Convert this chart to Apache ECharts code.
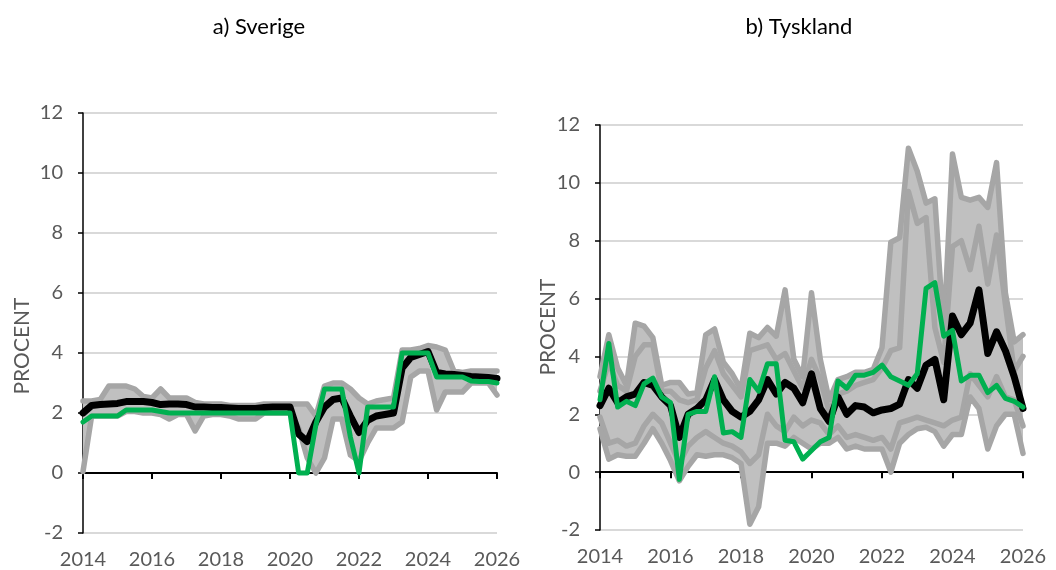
<!DOCTYPE html>
<html>
<head>
<meta charset="utf-8">
<title>Sverige och Tyskland</title>
<script src="https://cdn.jsdelivr.net/npm/echarts@6/dist/echarts.min.js"></script>
<style>
  html, body { margin: 0; padding: 0; background: #fff; }
  #chart { width: 1056px; height: 570px; }
</style>
</head>
<body>
<div id="chart"></div>
<script>
// kvartal 2014K1 - 2026K1
const quarters = [
  '2014K1', '2014K2', '2014K3', '2014K4', '2015K1', '2015K2', '2015K3', '2015K4',
  '2016K1', '2016K2', '2016K3', '2016K4', '2017K1', '2017K2', '2017K3', '2017K4',
  '2018K1', '2018K2', '2018K3', '2018K4', '2019K1', '2019K2', '2019K3', '2019K4',
  '2020K1', '2020K2', '2020K3', '2020K4', '2021K1', '2021K2', '2021K3', '2021K4',
  '2022K1', '2022K2', '2022K3', '2022K4', '2023K1', '2023K2', '2023K3', '2023K4',
  '2024K1', '2024K2', '2024K3', '2024K4', '2025K1', '2025K2', '2025K3', '2025K4',
  '2026K1',
];
const yTicks = [-2, 0, 2, 4, 6, 8, 10, 12];

// a) Sverige
const seBlack = [
  2.0, 2.25, 2.28, 2.3, 2.32, 2.38, 2.38, 2.38,
  2.35, 2.28, 2.3, 2.3, 2.28, 2.2, 2.2, 2.18,
  2.18, 2.17, 2.15, 2.15, 2.15, 2.18, 2.2, 2.2,
  2.2, 1.3, 1.05, 1.7, 2.2, 2.45, 2.5, 1.9,
  1.35, 1.75, 1.9, 1.95, 2.0, 3.5, 3.85, 3.95,
  4.05, 3.35, 3.3, 3.28, 3.25, 3.22, 3.2, 3.18,
  3.15,
];
const seGreen = [
  1.7, 1.9, 1.9, 1.9, 1.9, 2.1, 2.1, 2.1,
  2.1, 2.05, 2.0, 2.0, 2.0, 2.0, 2.0, 2.0,
  2.0, 2.0, 2.0, 2.0, 2.0, 2.0, 2.0, 2.0,
  2.0, 0.0, 0.0, 1.6, 2.8, 2.8, 2.8, 1.2,
  0.0, 2.2, 2.2, 2.2, 2.2, 4.0, 4.0, 4.0,
  4.0, 3.2, 3.2, 3.2, 3.2, 3.07, 3.05, 3.05,
  3.0,
];
const seHigh = [
  2.4, 2.4, 2.45, 2.9, 2.9, 2.9, 2.8, 2.55,
  2.5, 2.8, 2.5, 2.5, 2.5, 2.35, 2.3, 2.3,
  2.3, 2.25, 2.25, 2.25, 2.25, 2.3, 2.3, 2.3,
  2.3, 2.3, 2.3, 1.9, 2.9, 3.0, 3.0, 2.8,
  2.5, 2.3, 2.4, 2.45, 2.5, 4.1, 4.1, 4.15,
  4.25, 4.2, 4.1, 3.4, 3.35, 3.4, 3.4, 3.4,
  3.4,
];
const seLow = [
  0.05, 1.9, 1.9, 1.9, 1.9, 2.05, 2.05, 2.0,
  2.0, 1.95, 1.8, 1.95, 1.95, 1.4, 1.9, 1.95,
  1.95, 1.9, 1.8, 1.8, 1.8, 2.0, 2.0, 2.0,
  2.0, 1.5, 0.5, 0.0, 0.5, 1.8, 1.8, 0.6,
  0.4, 1.0, 1.5, 1.5, 1.5, 1.7, 3.2, 3.4,
  3.4, 2.1, 2.7, 2.7, 2.7, 3.0, 3.0, 3.0,
  2.6,
];

// b) Tyskland
const deBlack = [
  2.3, 2.9, 2.4, 2.6, 2.7, 3.1, 3.0, 2.6,
  2.3, 1.2, 2.0, 2.2, 2.5, 3.2, 2.5, 2.1,
  1.9, 2.1, 2.5, 3.2, 2.7, 3.1, 2.9, 2.4,
  3.4, 2.2, 1.75, 2.6, 2.0, 2.3, 2.25, 2.05,
  2.15, 2.2, 2.35, 3.2, 2.9, 3.7, 3.9, 2.5,
  5.4, 4.75, 5.15, 6.3, 4.1, 4.85, 4.2, 3.3,
  2.2,
];
const deGreen = [
  2.5, 4.45, 2.25, 2.45, 2.3, 3.05, 3.25, 2.6,
  2.4, -0.25, 2.0, 2.1, 2.1, 3.3, 1.35, 1.4,
  1.2, 3.2, 2.8, 3.75, 3.75, 1.1, 1.05, 0.45,
  0.75, 1.05, 1.2, 3.15, 2.9, 3.35, 3.35, 3.45,
  3.7, 3.3, 3.15, 3.0, 3.4, 6.35, 6.55, 4.7,
  4.9, 3.15, 3.35, 3.35, 2.75, 3.0, 2.55, 2.45,
  2.25,
];
const deHigh = [
  3.3, 4.75, 3.6, 3.0, 5.15, 5.05, 4.65, 3.0,
  3.1, 3.1, 2.7, 2.75, 4.75, 4.95, 3.8, 3.4,
  2.85, 4.8, 4.65, 5.0, 4.7, 6.3, 3.9, 3.3,
  6.2, 3.9, 2.5, 3.2, 3.3, 3.45, 3.45, 3.55,
  4.3, 7.95, 8.1, 11.2, 10.4, 9.3, 9.45, 4.8,
  11.0, 9.5, 9.4, 9.5, 9.15, 10.7, 6.2, 4.5,
  4.75,
];
const deHigh2 = [
  2.8, 3.8, 3.0, 2.8, 4.0, 4.4, 4.4, 2.8,
  2.8, 2.5, 2.4, 2.5, 3.6, 4.2, 3.4, 3.0,
  2.6, 4.2, 4.3, 4.4, 3.9, 4.1, 3.5, 2.9,
  3.9, 3.2, 2.1, 2.7, 2.8, 3.0, 3.1, 3.2,
  3.6, 4.2, 4.3, 9.7, 8.6, 8.8, 5.0, 3.8,
  7.8, 8.0, 7.0, 8.5, 6.5, 8.2, 5.8, 3.5,
  4.0,
];
const deLow2 = [
  1.9, 1.0, 1.1, 0.9, 1.0, 1.6, 2.0, 1.7,
  1.0, 0.3, 0.9, 1.2, 1.4, 1.2, 1.0, 0.9,
  0.7, 0.3, 0.6, 2.0, 1.6, 1.4, 1.9, 1.6,
  1.8, 1.7, 1.3, 1.6, 1.2, 1.3, 1.2, 1.1,
  1.2, 0.8, 1.7, 1.8, 1.9, 1.8, 1.7, 1.6,
  1.8, 1.9, 3.4, 3.0, 2.6, 3.3, 2.6, 2.5,
  1.6,
];
const deLow = [
  1.5, 0.45, 0.6, 0.55, 0.55, 1.0, 1.5, 1.0,
  0.4, -0.3, 0.2, 0.6, 0.55, 0.6, 0.6, 0.5,
  0.3, -1.8, -1.2, 1.0, 1.0, 0.9, 1.2, 1.0,
  0.8, 1.0, 1.0, 1.2, 0.8, 0.9, 0.8, 0.8,
  0.8, 0.0, 1.0, 1.3, 1.5, 1.55, 1.4, 0.9,
  1.3, 1.3, 2.6, 2.2, 0.8, 1.6, 2.0, 2.0,
  0.65,
];

const GREY_LINE = '#a6a6a6';
const GREY_FILL = '#c0c0c0';
const LABEL = '#595959';
const FONT = 'Lato, "Open Sans", sans-serif';
const everyOther = (i) => i % 8 === 0; // ett märke vartannat år

const chart = echarts.init(document.getElementById('chart'));

// x-axel längst ned: bara årtal
function labelAxis(gridIndex) {
  return {
    type: 'category',
    gridIndex: gridIndex,
    position: 'bottom',
    data: quarters,
    boundaryGap: false,
    axisLine: { show: false, onZero: false },
    axisTick: { show: false },
    axisLabel: {
      interval: everyOther,
      formatter: (v) => v.slice(0, 4),
      margin: 19,
      lineHeight: 16,
      color: LABEL,
      fontSize: 20,
      fontFamily: FONT,
    },
    splitLine: { show: false },
  };
}

// x-axel vid noll: linje och streck nedåt
function zeroAxis(gridIndex) {
  return {
    type: 'category',
    gridIndex: gridIndex,
    position: 'top',
    data: quarters,
    boundaryGap: false,
    axisLine: { show: true, onZero: true, lineStyle: { color: '#000', width: 2 } },
    axisTick: { show: true, inside: true, length: 6, interval: everyOther, lineStyle: { color: '#000', width: 2 } },
    axisLabel: { show: false },
    splitLine: { show: false },
  };
}

function makeYAxis(gridIndex) {
  return {
    type: 'value',
    gridIndex: gridIndex,
    min: yTicks[0],
    max: yTicks[yTicks.length - 1],
    interval: 2,
    axisLine: { show: true, onZero: false, lineStyle: { color: '#000', width: 1.5 } },
    axisTick: { show: true, length: 5, lineStyle: { color: '#000', width: 1.5 } },
    axisLabel: { margin: 20, color: LABEL, fontSize: 20, fontFamily: FONT },
    splitLine: { show: true, lineStyle: { color: '#d9d9d9', width: 2 } },
  };
}

// grått band mellan lägsta och högsta, byggt med stack
function bandSeries(xIdx, yIdx, low, high) {
  return [
    {
      type: 'line',
      xAxisIndex: xIdx,
      yAxisIndex: yIdx,
      stack: 'band' + yIdx,
      stackStrategy: 'all',
      data: low,
      symbol: 'none',
      lineStyle: { opacity: 0 },
      silent: true,
    },
    {
      type: 'line',
      xAxisIndex: xIdx,
      yAxisIndex: yIdx,
      stack: 'band' + yIdx,
      stackStrategy: 'all',
      data: low.map((v, i) => +(high[i] - v).toFixed(3)),
      symbol: 'none',
      lineStyle: { opacity: 0 },
      areaStyle: { color: GREY_FILL, opacity: 1 },
      silent: true,
    },
  ];
}

function lineSeries(xIdx, yIdx, data, color, width) {
  return {
    type: 'line',
    xAxisIndex: xIdx,
    yAxisIndex: yIdx,
    data: data,
    symbol: 'none',
    lineStyle: { color: color, width: width, join: 'round', cap: 'round' },
    silent: true,
  };
}

const option = {
  animation: false,
  backgroundColor: '#fff',
  grid: [
    { left: 83, top: 113, width: 414, height: 420 },
    { left: 600, top: 125, width: 423, height: 405 },
  ],
  xAxis: [labelAxis(0), zeroAxis(0), labelAxis(1), zeroAxis(1)],
  yAxis: [makeYAxis(0), makeYAxis(1)],
  graphic: [
    {
      type: 'text', x: 259, y: 27,
      style: { text: 'a) Sverige', fill: '#000', fontSize: 22, fontFamily: FONT, align: 'center', verticalAlign: 'middle' },
    },
    {
      type: 'text', x: 799, y: 27,
      style: { text: 'b) Tyskland', fill: '#000', fontSize: 22, fontFamily: FONT, align: 'center', verticalAlign: 'middle' },
    },
    {
      type: 'text', x: 22, y: 346, rotation: Math.PI / 2,
      style: { text: 'PROCENT', fill: LABEL, fontSize: 21, fontFamily: FONT, align: 'center', verticalAlign: 'middle' },
    },
    {
      type: 'text', x: 548, y: 327, rotation: Math.PI / 2,
      style: { text: 'PROCENT', fill: LABEL, fontSize: 21, fontFamily: FONT, align: 'center', verticalAlign: 'middle' },
    },
  ],
  series: [
    ...bandSeries(0, 0, seLow, seHigh),
    lineSeries(0, 0, seHigh, GREY_LINE, 5.5),
    lineSeries(0, 0, seLow, GREY_LINE, 5.5),
    lineSeries(0, 0, seBlack, '#000', 7),
    lineSeries(0, 0, seGreen, '#00b050', 5),

    ...bandSeries(2, 1, deLow, deHigh),
    lineSeries(2, 1, deHigh, GREY_LINE, 5.5),
    lineSeries(2, 1, deHigh2, GREY_LINE, 5.5),
    lineSeries(2, 1, deLow2, GREY_LINE, 5.5),
    lineSeries(2, 1, deLow, GREY_LINE, 5.5),
    lineSeries(2, 1, deBlack, '#000', 7),
    lineSeries(2, 1, deGreen, '#00b050', 5),
  ],
};

chart.setOption(option);
</script>
</body>
</html>
